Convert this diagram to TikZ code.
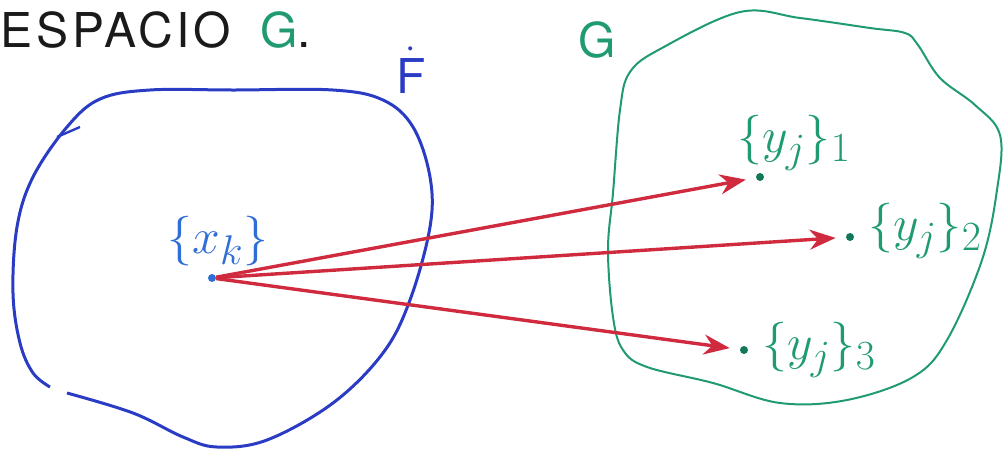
\documentclass[tikz,border=0pt]{standalone}
\usepackage{amsmath,amssymb}
\usepackage{fontspec}
\newfontfamily\ttlfont[LetterSpace=8]{TeX Gyre Heros}
\usepackage{xcolor}
\usepackage{tikz}
\usetikzlibrary{positioning,arrows.meta}
\definecolor{cblue}{HTML}{2B3CC4}
\definecolor{clblue}{HTML}{2F6ED6}
\definecolor{cgreen}{HTML}{1F9A72}
\definecolor{cdgreen}{HTML}{13785A}
\definecolor{cred}{HTML}{D02A3E}
\definecolor{cink}{HTML}{1A1A1A}
\tikzset{
 pt/.style={circle, inner sep=0pt, minimum size=4pt},
 ptb/.style={pt, fill=clblue},
 ptg/.style={pt, fill=cdgreen},
 lblb/.style={inner sep=1pt, font=\Huge, text=clblue},
 lblg/.style={inner sep=1pt, font=\Huge, text=cgreen},
 ttl/.style={inner sep=0pt, font=\ttlfont\fontsize{24}{28}\selectfont},
 fl/.style={-{Stealth[length=13pt,width=10pt]}, draw=cred, line width=1.7pt, shorten >=5pt},
 bndb/.style={draw=cblue, line width=1.5pt},
 bndg/.style={draw=cgreen, line width=1pt},
}
\begin{document}
\begin{tikzpicture}[x=0.5pt,y=-0.5pt]
 \useasboundingbox (0,0) rectangle (1003,451);
 % titles
 \node[ttl, anchor=west, text=cink] (esp) at (0,30) {ESPACIO};
 \node[ttl, right=5mm of esp, text=cink] (G0) {{\color{cgreen}G}.};
 \node[ttl, text=cblue] (F) at (411,70) {$\dot{\text{F}}$};
 \node[ttl, text=cgreen] (G) at (597,40) {G};
 % blobs
 \draw[bndb] plot[smooth, tension=0.6] coordinates {(67,393) (133,413) (183,437)
   (217,447) (267,440) (333,403) (383,353) (410,300) (430,227) (430,177)
   (413,127) (383,100) (333,90) (233,90) (150,90) (100,99) (67,127) (33,177)
   (17,227) (13,293) (20,343) (33,373) (50,387)};
 \draw[bndb, line width=1.2pt] (57,137) -- (80,127);
 \draw[bndg] plot[smooth cycle, tension=0.6] coordinates {(630,72) (662,48)
   (740,12) (800,18) (870,28) (905,33) (918,45) (940,78) (975,105) (1000,135)
   (997,190) (982,260) (947,340) (913,377) (847,400) (780,403) (713,383)
   (647,367) (623,350) (613,317) (608,250) (613,193) (620,110)};
 % points
 \node[ptb] (xk) at (212,278) {};
 \node[ptg] (y1) at (760,177) {};
 \node[ptg] (y2) at (850,237) {};
 \node[ptg] (y3) at (744,350) {};
 % labels
 \node[lblb, above=1mm of xk, xshift=3pt] (lxk) {$\{x_k\}$};
 \node[lblg, above=0mm of y1, xshift=17pt] (ly1) {$\{y_j\}_1$};
 \node[lblg, right=2mm of y2, yshift=3pt] (ly2) {$\{y_j\}_2$};
 \node[lblg, right=2mm of y3] (ly3) {$\{y_j\}_3$};
 % maps
 \draw[fl] (xk) -- (y1);
 \draw[fl] (xk) -- (y2);
 \draw[fl] (xk) -- (y3);
\end{tikzpicture}
\end{document}
